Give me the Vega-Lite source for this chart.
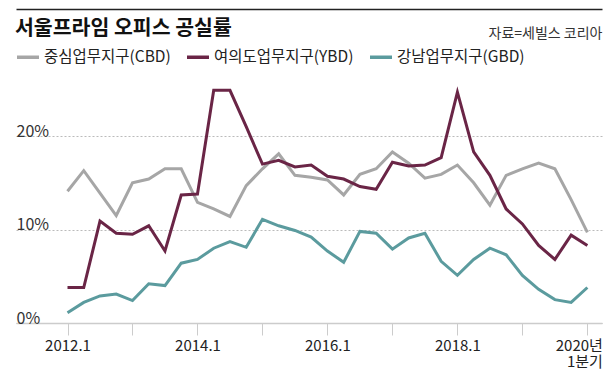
{
  "$schema": "https://vega.github.io/schema/vega-lite/v6.json",
  "width": 586,
  "height": 243,
  "autosize": {"type": "none"},
  "padding": {"left": 16, "top": 80, "right": 14, "bottom": 53},
  "background": "white",
  "config": {"view": {"stroke": null}, "font": "Noto Sans CJK KR"},
  "title": {
    "text": "서울프라임 오피스 공실률",
    "anchor": "start",
    "frame": "group",
    "fontSize": 20.5,
    "fontWeight": "bold",
    "color": "#111",
    "offset": 0,
    "baseline": "alphabetic",
    "dx": -1,
    "dy": 46
  },
  "data": {
    "values": [
      {"t": 0, "period": "2012.1", "district": "중심업무지구(CBD)", "rate": 14.1},
      {"t": 1, "period": "2012.2", "district": "중심업무지구(CBD)", "rate": 16.3},
      {"t": 2, "period": "2012.3", "district": "중심업무지구(CBD)", "rate": 13.9},
      {"t": 3, "period": "2012.4", "district": "중심업무지구(CBD)", "rate": 11.5},
      {"t": 4, "period": "2013.1", "district": "중심업무지구(CBD)", "rate": 15.0},
      {"t": 5, "period": "2013.2", "district": "중심업무지구(CBD)", "rate": 15.4},
      {"t": 6, "period": "2013.3", "district": "중심업무지구(CBD)", "rate": 16.5},
      {"t": 7, "period": "2013.4", "district": "중심업무지구(CBD)", "rate": 16.5},
      {"t": 8, "period": "2014.1", "district": "중심업무지구(CBD)", "rate": 12.9},
      {"t": 9, "period": "2014.2", "district": "중심업무지구(CBD)", "rate": 12.2},
      {"t": 10, "period": "2014.3", "district": "중심업무지구(CBD)", "rate": 11.4},
      {"t": 11, "period": "2014.4", "district": "중심업무지구(CBD)", "rate": 14.7},
      {"t": 12, "period": "2015.1", "district": "중심업무지구(CBD)", "rate": 16.5},
      {"t": 13, "period": "2015.2", "district": "중심업무지구(CBD)", "rate": 18.1},
      {"t": 14, "period": "2015.3", "district": "중심업무지구(CBD)", "rate": 15.8},
      {"t": 15, "period": "2015.4", "district": "중심업무지구(CBD)", "rate": 15.6},
      {"t": 16, "period": "2016.1", "district": "중심업무지구(CBD)", "rate": 15.3},
      {"t": 17, "period": "2016.2", "district": "중심업무지구(CBD)", "rate": 13.7},
      {"t": 18, "period": "2016.3", "district": "중심업무지구(CBD)", "rate": 15.9},
      {"t": 19, "period": "2016.4", "district": "중심업무지구(CBD)", "rate": 16.5},
      {"t": 20, "period": "2017.1", "district": "중심업무지구(CBD)", "rate": 18.3},
      {"t": 21, "period": "2017.2", "district": "중심업무지구(CBD)", "rate": 17.1},
      {"t": 22, "period": "2017.3", "district": "중심업무지구(CBD)", "rate": 15.5},
      {"t": 23, "period": "2017.4", "district": "중심업무지구(CBD)", "rate": 15.9},
      {"t": 24, "period": "2018.1", "district": "중심업무지구(CBD)", "rate": 16.9},
      {"t": 25, "period": "2018.2", "district": "중심업무지구(CBD)", "rate": 15.0},
      {"t": 26, "period": "2018.3", "district": "중심업무지구(CBD)", "rate": 12.6},
      {"t": 27, "period": "2018.4", "district": "중심업무지구(CBD)", "rate": 15.8},
      {"t": 28, "period": "2019.1", "district": "중심업무지구(CBD)", "rate": 16.5},
      {"t": 29, "period": "2019.2", "district": "중심업무지구(CBD)", "rate": 17.1},
      {"t": 30, "period": "2019.3", "district": "중심업무지구(CBD)", "rate": 16.5},
      {"t": 31, "period": "2019.4", "district": "중심업무지구(CBD)", "rate": 13.2},
      {"t": 32, "period": "2020.1", "district": "중심업무지구(CBD)", "rate": 9.7},
      {"t": 0, "period": "2012.1", "district": "여의도업무지구(YBD)", "rate": 3.8},
      {"t": 1, "period": "2012.2", "district": "여의도업무지구(YBD)", "rate": 3.8},
      {"t": 2, "period": "2012.3", "district": "여의도업무지구(YBD)", "rate": 10.9},
      {"t": 3, "period": "2012.4", "district": "여의도업무지구(YBD)", "rate": 9.6},
      {"t": 4, "period": "2013.1", "district": "여의도업무지구(YBD)", "rate": 9.5},
      {"t": 5, "period": "2013.2", "district": "여의도업무지구(YBD)", "rate": 10.4},
      {"t": 6, "period": "2013.3", "district": "여의도업무지구(YBD)", "rate": 7.7},
      {"t": 7, "period": "2013.4", "district": "여의도업무지구(YBD)", "rate": 13.7},
      {"t": 8, "period": "2014.1", "district": "여의도업무지구(YBD)", "rate": 13.8},
      {"t": 9, "period": "2014.2", "district": "여의도업무지구(YBD)", "rate": 24.9},
      {"t": 10, "period": "2014.3", "district": "여의도업무지구(YBD)", "rate": 24.9},
      {"t": 11, "period": "2014.4", "district": "여의도업무지구(YBD)", "rate": 21.0},
      {"t": 12, "period": "2015.1", "district": "여의도업무지구(YBD)", "rate": 17.0},
      {"t": 13, "period": "2015.2", "district": "여의도업무지구(YBD)", "rate": 17.4},
      {"t": 14, "period": "2015.3", "district": "여의도업무지구(YBD)", "rate": 16.7},
      {"t": 15, "period": "2015.4", "district": "여의도업무지구(YBD)", "rate": 16.9},
      {"t": 16, "period": "2016.1", "district": "여의도업무지구(YBD)", "rate": 15.7},
      {"t": 17, "period": "2016.2", "district": "여의도업무지구(YBD)", "rate": 15.4},
      {"t": 18, "period": "2016.3", "district": "여의도업무지구(YBD)", "rate": 14.6},
      {"t": 19, "period": "2016.4", "district": "여의도업무지구(YBD)", "rate": 14.3},
      {"t": 20, "period": "2017.1", "district": "여의도업무지구(YBD)", "rate": 17.2},
      {"t": 21, "period": "2017.2", "district": "여의도업무지구(YBD)", "rate": 16.8},
      {"t": 22, "period": "2017.3", "district": "여의도업무지구(YBD)", "rate": 16.9},
      {"t": 23, "period": "2017.4", "district": "여의도업무지구(YBD)", "rate": 17.7},
      {"t": 24, "period": "2018.1", "district": "여의도업무지구(YBD)", "rate": 24.7},
      {"t": 25, "period": "2018.2", "district": "여의도업무지구(YBD)", "rate": 18.3},
      {"t": 26, "period": "2018.3", "district": "여의도업무지구(YBD)", "rate": 15.8},
      {"t": 27, "period": "2018.4", "district": "여의도업무지구(YBD)", "rate": 12.2},
      {"t": 28, "period": "2019.1", "district": "여의도업무지구(YBD)", "rate": 10.6},
      {"t": 29, "period": "2019.2", "district": "여의도업무지구(YBD)", "rate": 8.3},
      {"t": 30, "period": "2019.3", "district": "여의도업무지구(YBD)", "rate": 6.8},
      {"t": 31, "period": "2019.4", "district": "여의도업무지구(YBD)", "rate": 9.4},
      {"t": 32, "period": "2020.1", "district": "여의도업무지구(YBD)", "rate": 8.3},
      {"t": 0, "period": "2012.1", "district": "강남업무지구(GBD)", "rate": 1.1},
      {"t": 1, "period": "2012.2", "district": "강남업무지구(GBD)", "rate": 2.2},
      {"t": 2, "period": "2012.3", "district": "강남업무지구(GBD)", "rate": 2.9},
      {"t": 3, "period": "2012.4", "district": "강남업무지구(GBD)", "rate": 3.1},
      {"t": 4, "period": "2013.1", "district": "강남업무지구(GBD)", "rate": 2.4},
      {"t": 5, "period": "2013.2", "district": "강남업무지구(GBD)", "rate": 4.2},
      {"t": 6, "period": "2013.3", "district": "강남업무지구(GBD)", "rate": 4.0},
      {"t": 7, "period": "2013.4", "district": "강남업무지구(GBD)", "rate": 6.4},
      {"t": 8, "period": "2014.1", "district": "강남업무지구(GBD)", "rate": 6.8},
      {"t": 9, "period": "2014.2", "district": "강남업무지구(GBD)", "rate": 8.0},
      {"t": 10, "period": "2014.3", "district": "강남업무지구(GBD)", "rate": 8.7},
      {"t": 11, "period": "2014.4", "district": "강남업무지구(GBD)", "rate": 8.1},
      {"t": 12, "period": "2015.1", "district": "강남업무지구(GBD)", "rate": 11.1},
      {"t": 13, "period": "2015.2", "district": "강남업무지구(GBD)", "rate": 10.4},
      {"t": 14, "period": "2015.3", "district": "강남업무지구(GBD)", "rate": 9.9},
      {"t": 15, "period": "2015.4", "district": "강남업무지구(GBD)", "rate": 9.2},
      {"t": 16, "period": "2016.1", "district": "강남업무지구(GBD)", "rate": 7.7},
      {"t": 17, "period": "2016.2", "district": "강남업무지구(GBD)", "rate": 6.5},
      {"t": 18, "period": "2016.3", "district": "강남업무지구(GBD)", "rate": 9.8},
      {"t": 19, "period": "2016.4", "district": "강남업무지구(GBD)", "rate": 9.6},
      {"t": 20, "period": "2017.1", "district": "강남업무지구(GBD)", "rate": 7.9},
      {"t": 21, "period": "2017.2", "district": "강남업무지구(GBD)", "rate": 9.1},
      {"t": 22, "period": "2017.3", "district": "강남업무지구(GBD)", "rate": 9.6},
      {"t": 23, "period": "2017.4", "district": "강남업무지구(GBD)", "rate": 6.6},
      {"t": 24, "period": "2018.1", "district": "강남업무지구(GBD)", "rate": 5.1},
      {"t": 25, "period": "2018.2", "district": "강남업무지구(GBD)", "rate": 6.8},
      {"t": 26, "period": "2018.3", "district": "강남업무지구(GBD)", "rate": 8.0},
      {"t": 27, "period": "2018.4", "district": "강남업무지구(GBD)", "rate": 7.3},
      {"t": 28, "period": "2019.1", "district": "강남업무지구(GBD)", "rate": 5.1},
      {"t": 29, "period": "2019.2", "district": "강남업무지구(GBD)", "rate": 3.6},
      {"t": 30, "period": "2019.3", "district": "강남업무지구(GBD)", "rate": 2.5},
      {"t": 31, "period": "2019.4", "district": "강남업무지구(GBD)", "rate": 2.2},
      {"t": 32, "period": "2020.1", "district": "강남업무지구(GBD)", "rate": 3.8}
    ]
  },
  "layer": [
    {
      "mark": {"type": "line", "strokeWidth": 3, "strokeJoin": "miter"},
      "encoding": {
        "x": {
          "field": "t",
          "type": "quantitative",
          "scale": {"domain": [-3.17, 32.9], "nice": false, "zero": false},
          "axis": {
            "values": [0, 4, 8, 12, 16, 20, 24, 28, 32],
            "labelExpr": "datum.value == 32 ? ['2020년', '1분기'] : (datum.value % 8 == 0 ? (2012 + datum.value / 4) + '.1' : '')",
            "grid": false,
            "domainColor": "#cccccc",
            "domainWidth": 1.5,
            "tickColor": "#cccccc",
            "tickSize": 12,
            "tickWidth": 1,
            "labelPadding": 3,
            "labelFontSize": 15,
            "labelColor": "#222222",
            "labelLineHeight": 16,
            "labelFlush": false,
            "labelOverlap": false,
            "labelAlign": {"condition": {"test": "datum.value == 32", "value": "right"}, "value": "center"},
            "labelOffset": {"condition": {"test": "datum.value == 32", "value": 15}, "value": 0},
            "title": null
          }
        },
        "y": {
          "field": "rate",
          "type": "quantitative",
          "scale": {"domain": [0, 26], "nice": false},
          "axis": {
            "values": [0, 10, 20],
            "labelExpr": "datum.value + '%'",
            "domain": false,
            "ticks": false,
            "tickSize": 0,
            "labelPadding": 0,
            "labelAlign": "left",
            "labelBaseline": "alphabetic",
            "labelDy": -4,
            "labelFontSize": 16,
            "labelColor": "#333333",
            "grid": true,
            "gridDash": [2, 2],
            "gridColor": "#bbbbbb",
            "gridWidth": 1,
            "title": "자료=세빌스 코리아",
            "titleAngle": 0,
            "titleX": 586,
            "titleY": -43,
            "titleAlign": "right",
            "titleBaseline": "alphabetic",
            "titleFontSize": 14,
            "titleFontWeight": "normal",
            "titleColor": "#333333"
          }
        },
        "color": {
          "field": "district",
          "type": "nominal",
          "scale": {
            "domain": ["중심업무지구(CBD)", "여의도업무지구(YBD)", "강남업무지구(GBD)"],
            "range": ["#a6a6a6", "#6a2546", "#5b9b9e"]
          },
          "legend": {
            "orient": "none",
            "legendX": -1,
            "legendY": -36,
            "direction": "horizontal",
            "title": null,
            "symbolType": "stroke",
            "symbolSize": 484,
            "symbolStrokeWidth": 3.5,
            "labelFontSize": 15.5,
            "labelColor": "#222222",
            "labelOffset": 3,
            "columnPadding": 9,
            "labelLimit": 300,
            "padding": 0
          }
        }
      }
    },
    {
      "mark": {"type": "point", "opacity": 0},
      "encoding": {
        "x": {
          "field": "t",
          "type": "quantitative",
          "scale": {"domain": [-3.17, 32.9], "nice": false, "zero": false},
          "axis": {
            "orient": "top",
            "offset": 71,
            "domainColor": "#222222",
            "domainWidth": 1.5,
            "ticks": false,
            "labels": false,
            "grid": false,
            "title": null
          }
        }
      }
    }
  ],
  "resolve": {"axis": {"x": "independent"}}
}
